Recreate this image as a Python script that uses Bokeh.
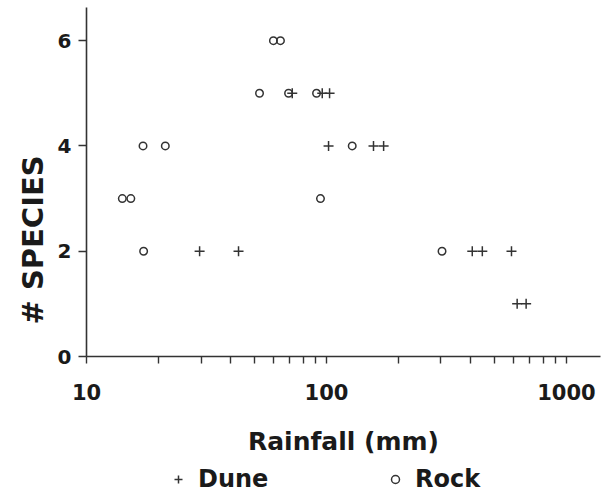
from bokeh.plotting import figure
from bokeh.layouts import column
from bokeh.models import FixedTicker, BasicTickFormatter, Legend, LegendItem, Range1d, Title
from bokeh.embed import file_html
from bokeh.resources import INLINE

# Rainfall (mm) and number of species at each site
dune_rain = [29.6, 43, 72, 96, 103, 102, 157, 173, 405, 446, 590, 623, 679]
dune_species = [2, 2, 5, 5, 5, 4, 4, 4, 2, 2, 2, 1, 1]

rock_rain = [14.1, 15.3, 17.2, 21.3, 17.3, 52.6, 60.1, 64.3, 69.5, 90.9, 94.4, 128, 303]
rock_species = [3, 3, 4, 4, 2, 5, 6, 6, 5, 5, 3, 4, 2]

x_ticks = [10, 100, 1000]
x_minor = [20, 30, 40, 50, 60, 70, 80, 90, 200, 300, 400, 500, 600, 700, 800, 900]
y_ticks = [0, 2, 4, 6]

INK = "#333333"
TEXT = "#1a1a1a"
FONT = "DejaVu Sans"

DUNE_STYLE = dict(marker="cross", line_color=INK, line_width=1.5)
ROCK_STYLE = dict(marker="circle", line_color=INK, line_width=1.5, fill_color=None)

p = figure(width=608, height=458, x_axis_type="log",
           x_range=Range1d(10, 1386), y_range=Range1d(0, 6.63),
           output_backend="svg", toolbar_location=None,
           min_border_left=86, min_border_right=8,
           min_border_top=7, min_border_bottom=101)

p.xgrid.visible = False
p.ygrid.visible = False
p.outline_line_color = None
p.background_fill_color = "white"
p.border_fill_color = "white"

p.scatter(dune_rain, dune_species, size=10, **DUNE_STYLE)
p.scatter(rock_rain, rock_species, size=7.5, **ROCK_STYLE)

# axes
for ax in (p.xaxis[0], p.yaxis[0]):
    ax.axis_line_color = INK
    ax.axis_line_width = 1.6
    ax.major_tick_line_color = INK
    ax.major_tick_line_width = 1.4
    ax.minor_tick_line_color = INK
    ax.minor_tick_line_width = 1.4
    ax.major_tick_in = 0
    ax.minor_tick_in = 0
    ax.major_label_text_font = FONT
    ax.major_label_text_font_style = "bold"
    ax.major_label_text_color = TEXT
    ax.axis_label_text_font = FONT
    ax.axis_label_text_font_style = "bold"
    ax.axis_label_text_color = TEXT

xa = p.xaxis[0]
xa.ticker = FixedTicker(ticks=x_ticks, minor_ticks=x_minor)
xa.formatter = BasicTickFormatter(use_scientific=False)
xa.major_tick_out = 7
xa.minor_tick_out = 7
xa.major_label_text_font_size = "21px"
xa.major_label_standoff = 20
xa.axis_label = "Rainfall (mm)"
xa.axis_label_text_font_size = "25px"
xa.axis_label_standoff = 24

ya = p.yaxis[0]
ya.ticker = FixedTicker(ticks=y_ticks, minor_ticks=[])
ya.major_tick_out = 8
ya.minor_tick_out = 0
ya.major_label_text_font_size = "20px"
ya.major_label_standoff = 7

# vertical title for the count axis, nudged up from the bottom of the frame
p.add_layout(Title(text="# SPECIES", align="left", offset=32, standoff=10,
                   text_font=FONT, text_font_style="bold",
                   text_font_size="29px", text_color=TEXT), "left")

# key strip underneath the plot; its frame lines up with the plot frame
key = figure(width=608, height=35, x_range=Range1d(0, 1), y_range=Range1d(0, 1),
             output_backend="svg", toolbar_location=None,
             min_border=0, outline_line_color=None)
key.axis.visible = False
key.grid.visible = False
# sample glyphs only feed the key; their points sit outside the visible range
k_dune = key.scatter([-1], [-1], size=9, **DUNE_STYLE)
k_rock = key.scatter([-1], [-1], size=7.5, **ROCK_STYLE)

legend = Legend(items=[LegendItem(label="Dune", renderers=[k_dune]),
                       LegendItem(label="Rock", renderers=[k_rock])],
                orientation="horizontal", location=(82, 0),
                glyph_width=20, glyph_height=20, label_standoff=10,
                label_width=100, spacing=87, padding=0, margin=0,
                border_line_color=None, background_fill_alpha=0,
                label_text_font=FONT, label_text_font_style="bold",
                label_text_font_size="24px", label_text_color=TEXT)
key.add_layout(legend)

open("out.html", "w").write(file_html(column(p, key, spacing=0), INLINE))
